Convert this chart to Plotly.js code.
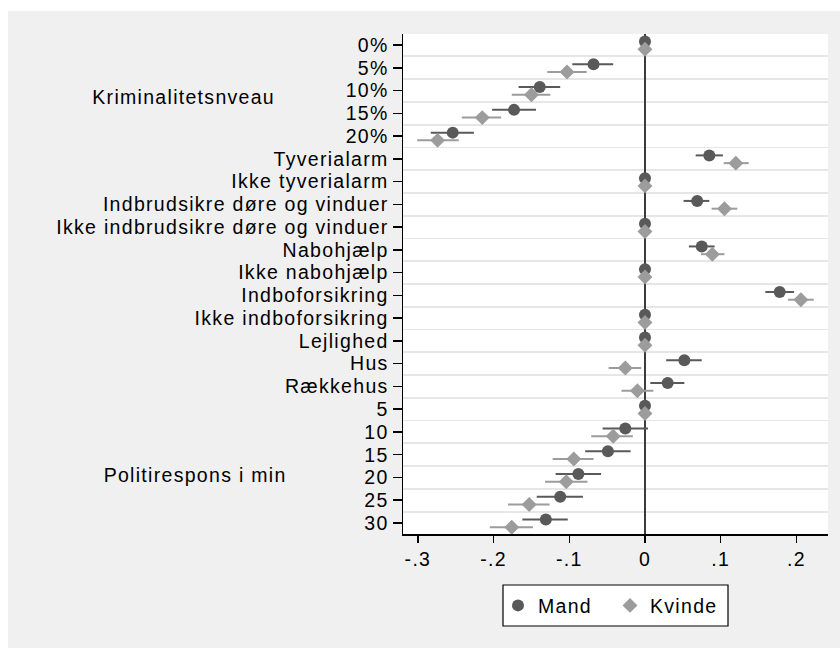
<!DOCTYPE html>
<html>
<head>
<meta charset="utf-8">
<script src="https://cdn.plot.ly/plotly-3.0.1.min.js"></script>
<style>
  html, body { margin: 0; padding: 0; background: #f0f0f0; }
  #chart { width: 840px; height: 648px; }
  #chart svg text { letter-spacing: 1.3px; }
</style>
</head>
<body>
<div id="chart"></div>
<script>
// ---- data ----
const categories = ['0%', '5%', '10%', '15%', '20%', 'Tyverialarm', 'Ikke tyverialarm',
  'Indbrudsikre døre og vinduer', 'Ikke indbrudsikre døre og vinduer', 'Nabohjælp',
  'Ikke nabohjælp', 'Indboforsikring', 'Ikke indboforsikring', 'Lejlighed', 'Hus',
  'Rækkehus', '5', '10', '15', '20', '25', '30'];

const mandEst = [0, -0.068, -0.139, -0.173, -0.254, 0.085, 0, 0.069, 0, 0.075, 0, 0.178, 0, 0, 0.052, 0.030, 0, -0.026, -0.049, -0.088, -0.112, -0.131];
const mandLo  = [0, -0.096, -0.167, -0.202, -0.283, 0.067, 0, 0.051, 0, 0.058, 0, 0.159, 0, 0, 0.028, 0.007, 0, -0.056, -0.079, -0.118, -0.143, -0.162];
const mandHi  = [0, -0.042, -0.112, -0.144, -0.226, 0.103, 0, 0.085, 0, 0.092, 0, 0.197, 0, 0, 0.075, 0.052, 0, 0.004, -0.019, -0.058, -0.082, -0.102];

const kvindeEst = [0, -0.103, -0.150, -0.215, -0.274, 0.120, 0, 0.105, 0, 0.089, 0, 0.206, 0, 0, -0.026, -0.010, 0, -0.042, -0.094, -0.104, -0.153, -0.176];
const kvindeLo  = [0, -0.129, -0.176, -0.242, -0.301, 0.104, 0, 0.088, 0, 0.074, 0, 0.189, 0, 0, -0.048, -0.031, 0, -0.071, -0.122, -0.132, -0.181, -0.205];
const kvindeHi  = [0, -0.077, -0.125, -0.190, -0.246, 0.137, 0, 0.122, 0, 0.105, 0, 0.223, 0, 0, -0.005, 0.011, 0, -0.016, -0.068, -0.076, -0.126, -0.148];

const seriesNames = ['Mand', 'Kvinde'];
const groupLabels = ['Kriminalitetsnveau', 'Politirespons i min'];
const xTickVals = [-0.3, -0.2, -0.1, 0, 0.1, 0.2];
const xTickText = ['-.3', '-.2', '-.1', '0', '.1', '.2'];

// ---- build ----
const rows = categories.map((c, i) => i + 1);
const offMand = -0.15, offKvinde = 0.19;
const FONT = 'Liberation Sans, Arial, sans-serif';
const FS = 19.5;
const cMand = '#595959', cKvinde = '#9c9c9c';

function trace(name, est, lo, hi, off, color, symbol, size) {
  return {
    type: 'scatter', mode: 'markers', name: name,
    x: est, y: rows.map(r => r + off),
    marker: { color: color, symbol: symbol, size: size, line: { width: 0 } },
    error_x: {
      type: 'data', symmetric: false,
      array: hi.map((h, i) => h - est[i]),
      arrayminus: est.map((e, i) => e - lo[i]),
      color: color, thickness: 2, width: 0
    },
    hoverinfo: 'x+name'
  };
}

const data = [
  trace(seriesNames[0], mandEst, mandLo, mandHi, offMand, cMand, 'circle', 12),
  trace(seriesNames[1], kvindeEst, kvindeLo, kvindeHi, offKvinde, cKvinde, 'diamond', 11.5)
];

const L = 403, T = 34, W = 425, H = 500;
const px = v => (v - L) / W;
const py = v => 1 - (v - T) / H;

const layout = {
  width: 840, height: 648,
  margin: { l: L, r: 840 - L - W, t: T, b: 648 - T - H, pad: 0 },
  paper_bgcolor: '#f0f0f0',
  plot_bgcolor: '#ffffff',
  font: { family: FONT, size: FS, color: '#000000' },
  showlegend: true,
  xaxis: {
    range: [-0.3197, 0.2418],
    tickvals: xTickVals, ticktext: xTickText,
    showgrid: false,
    zeroline: true, zerolinecolor: '#3c3c3c', zerolinewidth: 2,
    showline: true, linecolor: '#000000', linewidth: 1.5, mirror: false,
    ticks: 'outside', ticklen: 7, tickwidth: 1.5, tickcolor: '#000000',
    tickfont: { family: FONT, size: FS, color: '#000000' },
    fixedrange: true
  },
  yaxis: {
    range: [22.483, 0.517],
    tickvals: rows, ticktext: categories,
    showgrid: false,
    zeroline: false,
    showline: true, linecolor: '#000000', linewidth: 1.5, mirror: false,
    ticks: 'outside', ticklen: 9, tickwidth: 1.5, tickcolor: '#000000',
    tickfont: { family: FONT, size: FS, color: '#000000' },
    minor: {
      tickvals: rows.slice(0, -1).map(r => r + 0.5),
      showgrid: true, gridcolor: '#e6e6e6', gridwidth: 1.8, ticks: ''
    },
    fixedrange: true
  },
  legend: {
    orientation: 'h',
    x: px(498), xanchor: 'left',
    y: py(605.7), yanchor: 'middle',
    bgcolor: 'rgba(0,0,0,0)', borderwidth: 0,
    font: { family: FONT, size: FS, color: '#000000' },
    entrywidth: 67, entrywidthmode: 'pixels'
  },
  annotations: [
    { text: groupLabels[0], xref: 'paper', yref: 'paper', x: px(102), y: py(97),
      xanchor: 'left', yanchor: 'middle', showarrow: false,
      font: { family: FONT, size: FS, color: '#000000' } },
    { text: groupLabels[1], xref: 'paper', yref: 'paper', x: px(114), y: py(475),
      xanchor: 'left', yanchor: 'middle', showarrow: false,
      font: { family: FONT, size: FS, color: '#000000' } }
  ],
  shapes: [
    // white strip at top and left edge of the picture
    { type: 'rect', xref: 'paper', yref: 'paper', x0: px(0), x1: px(840), y0: py(11), y1: py(0),
      fillcolor: '#ffffff', line: { width: 0 }, layer: 'below' },
    { type: 'rect', xref: 'paper', yref: 'paper', x0: px(0), x1: px(8), y0: py(648), y1: py(0),
      fillcolor: '#ffffff', line: { width: 0 }, layer: 'below' },
    // legend frame
    { type: 'rect', xref: 'paper', yref: 'paper', x0: px(503), x1: px(728), y0: py(626), y1: py(585),
      fillcolor: '#ffffff', line: { color: '#000000', width: 1.2 }, layer: 'below' }
  ]
};

Plotly.newPlot('chart', data, layout, { displayModeBar: false, staticPlot: true });
</script>
</body>
</html>
